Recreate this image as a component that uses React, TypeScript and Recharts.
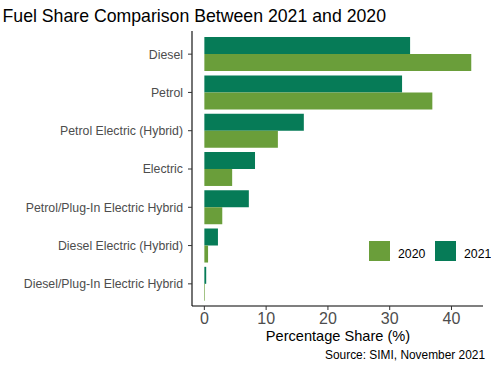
import React from "react";
import { BarChart, Bar, XAxis, YAxis } from "recharts";

const categories = [
  "Diesel",
  "Petrol",
  "Petrol Electric (Hybrid)",
  "Electric",
  "Petrol/Plug-In Electric Hybrid",
  "Diesel Electric (Hybrid)",
  "Diesel/Plug-In Electric Hybrid",
];
const share2021 = [33.3, 32.0, 16.1, 8.2, 7.2, 2.2, 0.3];
const share2020 = [43.2, 36.9, 11.9, 4.5, 2.9, 0.6, 0.1];
const xTicks = [0, 10, 20, 30, 40];

const series = [
  { key: "y2020", name: "2020", color: "#6A9E3A" },
  { key: "y2021", name: "2021", color: "#067B57" },
];

const data = categories.map((name, i) => ({
  name,
  y2021: share2021[i],
  y2020: share2020[i],
}));

const FONT = "'Liberation Sans', Arial, Helvetica, sans-serif";

const YTick = (props: any) => {
  const { x, y, payload } = props;
  return (
    <text
      x={x}
      y={y}
      dy="0.355em"
      textAnchor="end"
      fill="#4D4D4D"
      fontSize={12.3}
      fontFamily={FONT}
    >
      {payload.value}
    </text>
  );
};

export default function App() {
  return (
    <div
      style={{
        position: "absolute",
        left: 0,
        top: 0,
        width: 491,
        height: 369,
        background: "#fff",
        fontFamily: FONT,
        overflow: "hidden",
      }}
    >
      <BarChart
        width={491}
        height={369}
        data={data}
        layout="vertical"
        margin={{ top: 31, right: 8, bottom: 33, left: 0 }}
        barCategoryGap="5.5%"
        barGap={0}
      >
        <XAxis
          type="number"
          domain={[-2, 45.1]}
          ticks={xTicks}
          allowDataOverflow
          height={30}
          tickSize={4}
          tickMargin={3}
          axisLine={{ stroke: "#000", strokeWidth: 1.1 }}
          tickLine={{ stroke: "#333" }}
          tick={{ fill: "#4D4D4D", fontSize: 16, fontFamily: FONT }}
        />
        <YAxis
          type="category"
          dataKey="name"
          width={192}
          padding={{ top: 4, bottom: 3 }}
          tickSize={4}
          tickMargin={5}
          interval={0}
          axisLine={{ stroke: "#000", strokeWidth: 1.1 }}
          tickLine={{ stroke: "#333" }}
          tick={<YTick />}
        />
        <Bar dataKey="y2021" name="2021" fill={series[1].color} isAnimationActive={false} />
        <Bar dataKey="y2020" name="2020" fill={series[0].color} isAnimationActive={false} />
      </BarChart>
      <svg
        width={491}
        height={369}
        style={{ position: "absolute", left: 0, top: 0, pointerEvents: "none" }}
      >
        <text x={2.5} y={22} fontSize={17.7} fill="#000" fontFamily={FONT}>
          Fuel Share Comparison Between 2021 and 2020
        </text>
        <text x={338} y={340.5} fontSize={14.6} fill="#000" textAnchor="middle" fontFamily={FONT}>
          Percentage Share (%)
        </text>
        <text x={485} y={359} fontSize={11.9} fill="#000" textAnchor="end" fontFamily={FONT}>
          Source: SIMI, November 2021
        </text>
        {series.map((s, i) => (
          <g key={s.key}>
            <rect x={369 + i * 66} y={241} width={21} height={20} fill={s.color} />
            <text x={398 + i * 66} y={257.5} fontSize={12.3} fill="#000" fontFamily={FONT}>
              {s.name}
            </text>
          </g>
        ))}
      </svg>
    </div>
  );
}
